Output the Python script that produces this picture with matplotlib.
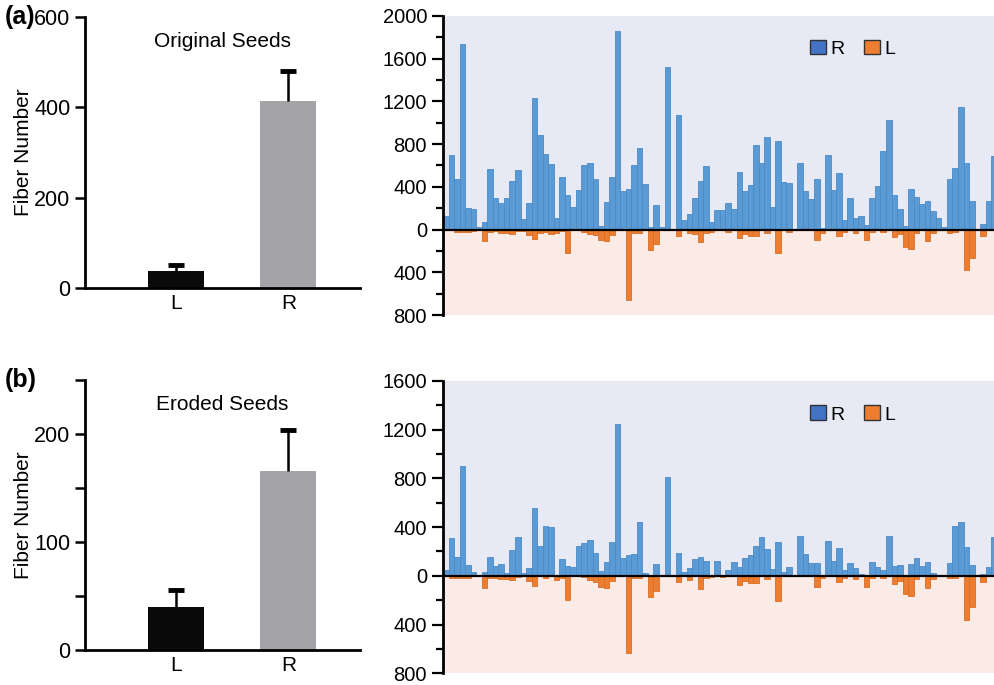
import numpy as np
import matplotlib
matplotlib.use('Agg')
import matplotlib.pyplot as plt
from matplotlib.patches import Patch
from matplotlib.ticker import MultipleLocator, FuncFormatter

plt.rcParams['font.family'] = ['Liberation Sans', 'DejaVu Sans']

# summary bars (left panels)
sides = ['L', 'R']
orig_mean = [38, 414]
orig_err = [14, 66]
ero_mean = [40, 166]
ero_err = [16, 38]

# per-seed fiber counts (right panels)
r_orig = [125, 700, 470, 1740, 200, 195, 20, 70, 570, 295,
          250, 295, 458, 554, 99, 250, 1229, 885, 706, 616,
          108, 495, 322, 207, 368, 600, 625, 477, 37, 257,
          492, 1854, 362, 375, 600, 762, 430, 25, 229, 22,
          1517, 0, 1068, 93, 145, 294, 455, 598, 71, 186,
          183, 245, 195, 542, 365, 421, 789, 619, 867, 214,
          833, 449, 440, 0, 619, 362, 285, 474, 12, 700,
          368, 526, 87, 291, 108, 127, 40, 297, 412, 737,
          1028, 325, 192, 31, 384, 307, 238, 269, 170, 111,
          25, 474, 579, 1145, 622, 269, 0, 50, 269, 690]
l_orig = [5, 0, 25, 25, 25, 10, 0, 110, 20, 15,
          35, 35, 45, 15, 10, 55, 90, 30, 20, 45,
          35, 10, 215, 5, 5, 20, 45, 55, 100, 110,
          55, 5, 0, 655, 30, 30, 0, 187, 133, 5,
          5, 0, 57, 5, 35, 40, 120, 30, 20, 5,
          5, 20, 0, 82, 45, 63, 63, 0, 35, 0,
          218, 5, 20, 0, 0, 0, 0, 95, 30, 0,
          0, 57, 25, 0, 30, 0, 95, 20, 0, 20,
          0, 73, 45, 165, 180, 35, 0, 110, 30, 0,
          0, 30, 20, 0, 380, 263, 0, 60, 0, 0]
r_ero = [45, 310, 152, 900, 92, 29, 0, 32, 158, 79,
         95, 21, 213, 316, 21, 66, 553, 242, 413, 403,
         5, 137, 82, 74, 245, 271, 298, 186, 40, 114,
         277, 1245, 149, 170, 181, 444, 21, 5, 98, 0,
         808, 0, 191, 35, 64, 136, 154, 125, 10, 125,
         5, 45, 112, 74, 146, 168, 247, 322, 218, 58,
         277, 32, 72, 0, 327, 183, 109, 109, 0, 287,
         125, 229, 45, 104, 64, 13, 0, 112, 69, 51,
         327, 82, 93, 5, 96, 144, 82, 114, 21, 10,
         0, 106, 407, 441, 234, 90, 0, 18, 72, 320]
l_ero = [0, 18, 18, 18, 18, 5, 0, 100, 16, 16,
         26, 26, 34, 10, 0, 45, 84, 5, 21, 5,
         32, 16, 200, 0, 5, 10, 35, 47, 92, 100,
         40, 0, 0, 630, 18, 18, 5, 174, 126, 0,
         5, 0, 47, 5, 32, 5, 105, 21, 13, 5,
         10, 0, 0, 71, 40, 55, 55, 0, 24, 0,
         205, 0, 5, 0, 0, 0, 0, 88, 18, 0,
         0, 50, 18, 0, 24, 0, 88, 16, 0, 16,
         0, 63, 45, 147, 168, 24, 0, 100, 26, 0,
         0, 21, 16, 0, 363, 253, 0, 47, 0, 0]

fig = plt.figure(figsize=(9.94, 6.85), dpi=100)


def summary_panel(rect, means, errs, ymax, major, minor, title, letter):
    ax = fig.add_axes(rect)
    x = np.arange(len(sides))
    ax.bar(x, means, width=0.5, color=['#0a0a0a', '#a3a3a8'])
    ax.errorbar(x, means, yerr=[np.zeros(len(errs)), errs], fmt='none',
                ecolor='black', elinewidth=1.8, capsize=0)
    ax.plot(x, np.array(means) + np.array(errs), ls='none', marker='_',
            markersize=11, mew=3.5, color='black')
    ax.set_xlim(-0.81, 1.64)
    ax.set_ylim(0, ymax)
    ax.yaxis.set_major_locator(MultipleLocator(major))
    if minor:
        ax.yaxis.set_minor_locator(MultipleLocator(minor))
    ax.set_xticks(x)
    ax.set_xticklabels(sides)
    ax.tick_params(axis='x', length=0, labelsize=15, pad=4)
    ax.tick_params(axis='y', which='both', length=7, width=1.8, labelsize=15.5)
    for s in ['top', 'right']:
        ax.spines[s].set_visible(False)
    for s in ['left', 'bottom']:
        ax.spines[s].set_linewidth(2)
    ax.set_ylabel('Fiber Number', fontsize=15)
    ax.yaxis.set_label_coords(-0.19, 0.5)
    ax.text(0.5, 0.91, title, transform=ax.transAxes, ha='center',
            va='center', fontsize=15)
    ax.text(-0.29, 1.0, letter, transform=ax.transAxes, ha='left',
            va='center', fontsize=18, fontweight='bold')
    return ax


def seed_panel(rect, r_vals, l_vals, ymax, ymin, leg_y):
    ax = fig.add_axes(rect)
    x = np.arange(len(r_vals))
    ax.axhspan(0, ymax, color='#e7eaf4', zorder=0)
    ax.axhspan(ymin, 0, color='#fbebe6', zorder=0)
    ax.bar(x, r_vals, width=1.0, color='#5b9bd5', edgecolor='#4d8ac4',
           linewidth=0.6, zorder=2)
    ax.bar(x, -np.array(l_vals), width=1.0, color='#ed7d31',
           edgecolor='#d96d25', linewidth=0.6, zorder=2)
    ax.axhline(0, color='black', lw=1.6, zorder=3)
    ax.set_xlim(-0.5, 99.0)
    ax.set_ylim(ymin, ymax)
    ax.yaxis.set_major_locator(MultipleLocator(400))
    ax.yaxis.set_minor_locator(MultipleLocator(200))
    ax.yaxis.set_major_formatter(FuncFormatter(lambda v, p: f'{abs(v):.0f}'))
    ax.tick_params(axis='y', which='major', length=8, width=1.6, labelsize=14.5)
    ax.tick_params(axis='y', which='minor', length=5, width=1.6)
    ax.set_xticks([])
    for s in ['top', 'right', 'bottom']:
        ax.spines[s].set_visible(False)
    ax.spines['left'].set_linewidth(2)
    handles = [Patch(facecolor='#4472c4', edgecolor='#333333', label='R'),
               Patch(facecolor='#ed7d31', edgecolor='#333333', label='L')]
    ax.legend(handles=handles, loc='center left', bbox_to_anchor=(0.635, leg_y),
              ncol=2, frameon=False, fontsize=14, handlelength=0.8,
              handleheight=0.8, handletextpad=0.25, columnspacing=1.0)
    return ax


summary_panel([0.0855, 0.5796, 0.277, 0.3954], orig_mean, orig_err, 600, 200,
              None, 'Original Seeds', '(a)')
summary_panel([0.0855, 0.051, 0.277, 0.394], ero_mean, ero_err, 250, 100,
              50, 'Eroded Seeds', '(b)')
seed_panel([0.4457, 0.540, 0.5543, 0.437], r_orig, l_orig, 2000, -800, 0.89)
seed_panel([0.4457, 0.017, 0.5543, 0.427], r_ero, l_ero, 1600, -800, 0.885)

plt.savefig('out.png', dpi=100)
